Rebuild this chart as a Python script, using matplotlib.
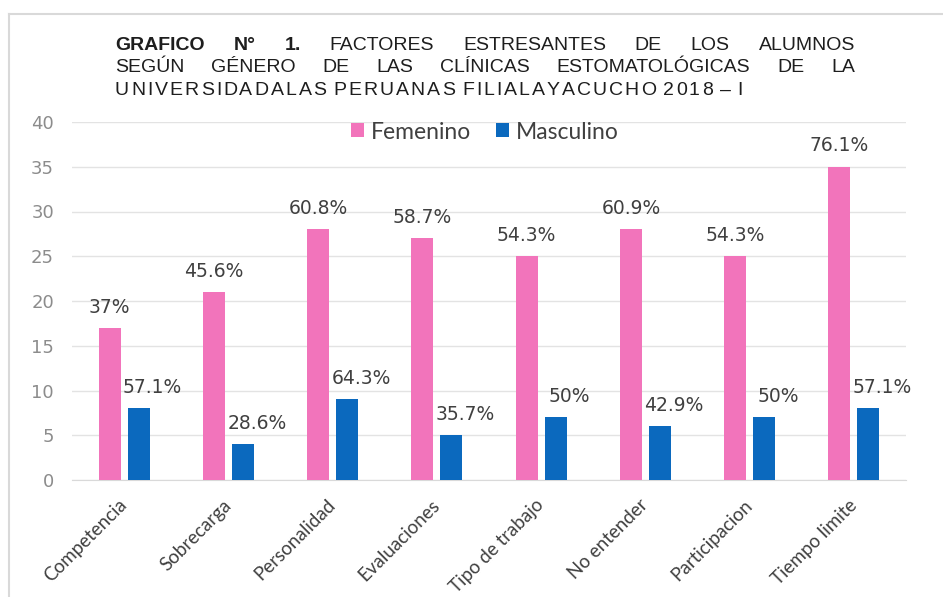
import matplotlib
matplotlib.use("Agg")
import matplotlib.pyplot as plt
import numpy as np
from matplotlib.lines import Line2D

# datos
categorias = ["Competencia", "Sobrecarga", "Personalidad", "Evaluaciones",
              "Tipo de trabajo", "No entender", "Participacion", "Tiempo limite"]
femenino = [17, 21, 28, 27, 25, 28, 25, 35]
masculino = [8, 4, 9, 5, 7, 6, 7, 8]
pct_fem = ["37%", "45.6%", "60.8%", "58.7%", "54.3%", "60.9%", "54.3%", "76.1%"]
pct_mas = ["57.1%", "28.6%", "64.3%", "35.7%", "50%", "42.9%", "50%", "57.1%"]
yticks = [0, 5, 10, 15, 20, 25, 30, 35, 40]

titulo1 = ["GRAFICO", "N°", "1.", "FACTORES", "ESTRESANTES", "DE", "LOS", "ALUMNOS"]
negrita1 = [True, True, True, False, False, False, False, False]
titulo2 = ["SEGÚN", "GÉNERO", "DE", "LAS", "CLÍNICAS", "ESTOMATOLÓGICAS", "DE", "LA"]
titulo3 = "UNIVERSIDADALAS PERUANAS FILIALAYACUCHO 2018 – I"

rosa = "#F274BB"
azul = "#0B69BE"
fuente = "Lato"

W, H = 943, 597
fig = plt.figure(figsize=(W / 100, H / 100), dpi=100)
ax = fig.add_axes([72 / W, 117 / H, 834 / W, 358 / H])

x = np.arange(len(categorias))
ancho = 0.21
desp = 0.139
ax.bar(x - desp, femenino, ancho, color=rosa, label="Femenino", zorder=3)
ax.bar(x + desp, masculino, ancho, color=azul, label="Masculino", zorder=3)

for xi, v, t in zip(x, femenino, pct_fem):
    ax.annotate(t, (xi - desp, v), xytext=(0, 15), textcoords="offset points",
                ha="center", va="center", fontsize=13.5, color="#404040", family="DejaVu Sans")
for xi, v, t in zip(x, masculino, pct_mas):
    ax.annotate(t, (xi + desp, v), xytext=(10, 15), textcoords="offset points",
                ha="center", va="center", fontsize=13.5, color="#404040", family="DejaVu Sans")

ax.set_xlim(-0.5, len(categorias) - 0.5)
ax.set_ylim(0, 40)
ax.set_yticks(yticks)
ax.set_xticks(x)
ax.set_xticklabels(categorias, rotation=45, ha="right", va="center",
                   rotation_mode="anchor", fontsize=13.5, color="#404040", family=fuente)
ax.tick_params(axis="x", length=0, pad=16)
ax.tick_params(axis="y", length=0, pad=13, labelsize=13, labelcolor="#8C8C8C")
ax.yaxis.grid(True, color="#E3E3E3", lw=1)
ax.set_axisbelow(True)
for s in ["top", "right", "left"]:
    ax.spines[s].set_visible(False)
ax.spines["bottom"].set_color("#D9D9D9")

fig.legend(loc="center", bbox_to_anchor=(485 / W, 1 - 132 / H), ncol=2, frameon=False,
           handlelength=0.55, handleheight=0.55, handletextpad=0.3, columnspacing=1.1,
           prop={"family": fuente, "size": 16.5}, labelcolor="#404040")


def linea_justificada(tokens, negritas, yb, x0, x1, size, espacio=0.0):
    # reparte los tokens para que ocupen de x0 a x1 (como texto justificado)
    textos = []
    for p, b in zip(tokens, negritas):
        textos.append(fig.text(x0, 1 - yb / H, p, fontsize=size, family="Liberation Sans",
                               fontweight="bold" if b else "normal",
                               color="#1E1E1E", va="baseline", ha="left"))
    fig.canvas.draw()
    r = fig.canvas.get_renderer()
    anchos = []
    for t in textos:
        if t.get_text() == " ":
            anchos.append(espacio)
        else:
            anchos.append(t.get_window_extent(r).width / W)
    hueco = (x1 - x0 - sum(anchos)) / (len(textos) - 1)
    pos = x0
    for t, w in zip(textos, anchos):
        t.set_x(pos)
        pos += w + hueco


linea_justificada(titulo1, negrita1, 50, 115 / W, 855 / W, 14)
linea_justificada(titulo2, [False] * len(titulo2), 72.5, 115 / W, 855 / W, 14)
# la ultima linea va con las letras repartidas
linea_justificada(list(titulo3), [False] * len(titulo3), 95, 115 / W, 743 / W, 14,
                  espacio=0.15 * 14 * 100 / 72 / W)

# marco gris del recuadro
fig.add_artist(Line2D([9 / W, 1], [1 - 14 / H, 1 - 14 / H], transform=fig.transFigure,
                      color="#D9D9D9", lw=1.5))
fig.add_artist(Line2D([9 / W, 9 / W], [0, 1 - 14 / H], transform=fig.transFigure,
                      color="#D9D9D9", lw=1.5))

fig.savefig("out.png", dpi=100)
